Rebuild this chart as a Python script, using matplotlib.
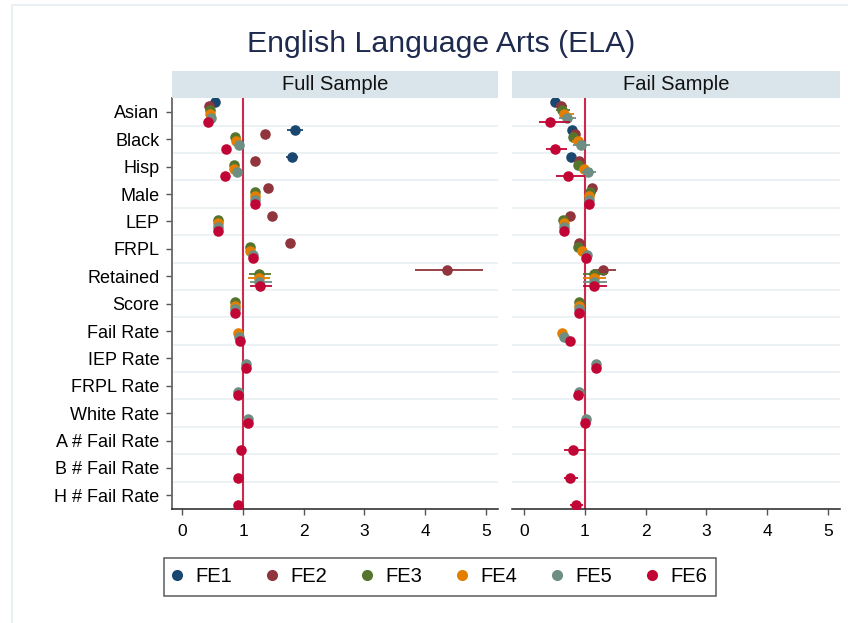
import numpy as np
import matplotlib
matplotlib.use("Agg")
import matplotlib.pyplot as plt
from matplotlib.lines import Line2D
from matplotlib.patches import Rectangle

plt.rcParams['font.family'] = ['Liberation Sans', 'DejaVu Sans']

nan = np.nan

categories = ["Asian", "Black", "Hisp", "Male", "LEP", "FRPL", "Retained", "Score",
              "Fail Rate", "IEP Rate", "FRPL Rate", "White Rate",
              "A # Fail Rate", "B # Fail Rate", "H # Fail Rate"]
models = ["FE1", "FE2", "FE3", "FE4", "FE5", "FE6"]
colors = ["#1a476f", "#90353b", "#55752f", "#e37e00", "#6e8e84", "#c10534"]
panels = ["Full Sample", "Fail Sample"]
xticks = [0, 1, 2, 3, 4, 5]

# ---- Full sample: point estimates and CI bounds ----
full_fe1 = [0.54, 1.85, 1.80]
full_fe1_lo = [0.51, 1.73, 1.71]
full_fe1_hi = [0.57, 1.98, 1.91]
full_fe2 = [0.44, 1.36, 1.20, 1.41, 1.47, 1.77, 4.36]
full_fe2_lo = [0.42, 1.32, 1.17, 1.38, 1.43, 1.74, 3.83]
full_fe2_hi = [0.46, 1.40, 1.23, 1.44, 1.51, 1.80, 4.96]
full_fe3 = [0.45, 0.87, 0.85, 1.20, 0.58, 1.12, 1.26, 0.86]
full_fe3_lo = [0.43, 0.85, 0.83, 1.18, 0.56, 1.10, 1.10, 0.84]
full_fe3_hi = [0.47, 0.89, 0.87, 1.22, 0.60, 1.14, 1.46, 0.88]
full_fe4 = [0.46, 0.88, 0.85, 1.20, 0.58, 1.12, 1.26, 0.86, 0.92]
full_fe4_lo = [0.44, 0.86, 0.83, 1.18, 0.56, 1.10, 1.09, 0.84, 0.90]
full_fe4_hi = [0.48, 0.90, 0.87, 1.22, 0.60, 1.14, 1.44, 0.88, 0.94]
full_fe5 = [0.48, 0.93, 0.90, 1.20, 0.58, 1.16, 1.27, 0.86, 0.93, 1.05, 0.91, 1.09]
full_fe5_lo = [0.46, 0.91, 0.88, 1.18, 0.56, 1.14, 1.12, 0.84, 0.91, 1.03, 0.89, 1.07]
full_fe5_hi = [0.50, 0.95, 0.92, 1.22, 0.60, 1.18, 1.48, 0.88, 0.95, 1.07, 0.93, 1.11]
full_fe6 = [0.42, 0.72, 0.70, 1.20, 0.59, 1.16, 1.28, 0.86, 0.945, 1.055, 0.91, 1.08, 0.97, 0.92, 0.92]
full_fe6_lo = [0.40, 0.70, 0.68, 1.18, 0.57, 1.14, 1.12, 0.84, 0.925, 1.035, 0.89, 1.06, 0.95, 0.90, 0.90]
full_fe6_hi = [0.44, 0.74, 0.72, 1.22, 0.61, 1.18, 1.48, 0.88, 0.965, 1.075, 0.93, 1.10, 0.99, 0.94, 0.94]

# ---- Fail sample ----
fail_fe1 = [0.51, 0.78, 0.77]
fail_fe1_lo = [0.48, 0.75, 0.74]
fail_fe1_hi = [0.55, 0.82, 0.81]
fail_fe2 = [0.60, 0.83, 0.90, 1.12, 0.75, 0.91, 1.30]
fail_fe2_lo = [0.53, 0.77, 0.85, 1.09, 0.72, 0.88, 1.14]
fail_fe2_hi = [0.70, 0.90, 0.96, 1.15, 0.79, 0.95, 1.52]
fail_fe3 = [0.63, 0.80, 0.88, 1.09, 0.64, 0.88, 1.15, 0.90]
fail_fe3_lo = [0.53, 0.75, 0.82, 1.06, 0.61, 0.85, 0.97, 0.88]
fail_fe3_hi = [0.75, 0.86, 0.94, 1.12, 0.67, 0.91, 1.36, 0.92]
fail_fe4 = [0.66, 0.88, 0.99, 1.07, 0.66, 0.96, 1.15, 0.90, 0.63]
fail_fe4_lo = [0.58, 0.78, 0.91, 1.04, 0.63, 0.92, 0.97, 0.88, 0.60]
fail_fe4_hi = [0.82, 0.98, 1.12, 1.10, 0.69, 1.00, 1.35, 0.92, 0.66]
fail_fe5 = [0.70, 0.93, 1.05, 1.07, 0.66, 1.03, 1.15, 0.90, 0.66, 1.19, 0.90, 1.02]
fail_fe5_lo = [0.58, 0.81, 0.95, 1.04, 0.63, 0.96, 0.97, 0.88, 0.63, 1.15, 0.88, 1.00]
fail_fe5_hi = [0.85, 1.08, 1.18, 1.10, 0.69, 1.10, 1.36, 0.92, 0.69, 1.25, 0.92, 1.04]
fail_fe6 = [0.42, 0.51, 0.72, 1.07, 0.66, 1.02, 1.15, 0.90, 0.76, 1.19, 0.89, 1.01, 0.80, 0.75, 0.86]
fail_fe6_lo = [0.25, 0.36, 0.53, 1.04, 0.63, 0.98, 0.97, 0.88, 0.72, 1.14, 0.87, 0.99, 0.65, 0.66, 0.76]
fail_fe6_hi = [0.75, 0.71, 1.00, 1.10, 0.69, 1.06, 1.36, 0.92, 0.80, 1.25, 0.91, 1.03, 1.02, 0.88, 0.97]

full_data = [(full_fe1, full_fe1_lo, full_fe1_hi), (full_fe2, full_fe2_lo, full_fe2_hi),
             (full_fe3, full_fe3_lo, full_fe3_hi), (full_fe4, full_fe4_lo, full_fe4_hi),
             (full_fe5, full_fe5_lo, full_fe5_hi), (full_fe6, full_fe6_lo, full_fe6_hi)]
fail_data = [(fail_fe1, fail_fe1_lo, fail_fe1_hi), (fail_fe2, fail_fe2_lo, fail_fe2_hi),
             (fail_fe3, fail_fe3_lo, fail_fe3_hi), (fail_fe4, fail_fe4_lo, fail_fe4_hi),
             (fail_fe5, fail_fe5_lo, fail_fe5_hi), (fail_fe6, fail_fe6_lo, fail_fe6_hi)]

W, H = 848, 623
fig = plt.figure(figsize=(W / 100, H / 100), dpi=100)

def fx(px):
    return px / W

def fy(py):
    return 1 - py / H

# outer light border
fig.add_artist(Rectangle((fx(12), fy(640)), 2.0, fy(4.7) - fy(640), transform=fig.transFigure,
                         fill=False, edgecolor="#e4edf1", linewidth=1.2))

fig.text(fx(441), fy(44), "English Language Arts (ELA)", ha="center", va="center",
         fontsize=21.8, color="#1e2b4f")

ax_specs = [(172, 498, -0.17), (512, 840, -0.20)]
top_px, bot_px = 97.7, 509
offsets = [-0.35, -0.21, -0.07, 0.07, 0.21, 0.35]
ypos = np.arange(1, len(categories) + 1)
line_red = "#cb2a4c"

for pi, (panel, data) in enumerate(zip(panels, [full_data, fail_data])):
    l, r, x0 = ax_specs[pi]
    ax = fig.add_axes([fx(l), fy(bot_px), fx(r) - fx(l), fy(top_px) - fy(bot_px)])
    ax.set_xlim(x0, 5.2)
    ax.set_ylim(15.5, 0.48)
    for g in np.arange(1.5, 15.0, 1.0):
        ax.axhline(g, color="#eaf0f3", lw=1.3, zorder=0)
    ax.axvline(1, color=line_red, lw=1.5, zorder=1)
    for mi, (vals, lo, hi) in enumerate(data):
        n = len(vals)
        y = ypos[:n] + offsets[mi]
        v = np.array(vals)
        ax.hlines(y, lo, hi, color=colors[mi], lw=1.3, zorder=2 + mi)
        ax.plot(v, y, "o", color=colors[mi], ms=7.6, mec="none", zorder=2 + mi)
    ax.set_xticks(xticks)
    ax.set_xticklabels([str(t) for t in xticks])
    ax.set_yticks(ypos)
    ax.tick_params(axis="x", length=4.5, width=1, color="#555555", pad=6, labelsize=12.5)
    ax.tick_params(axis="y", length=4, width=1, color="#555555", pad=5, labelsize=13)
    for s in ["top", "right"]:
        ax.spines[s].set_visible(False)
    ax.spines["bottom"].set_color("#222222")
    ax.spines["bottom"].set_linewidth(1.1)
    if pi == 0:
        ax.set_yticklabels(categories)
        ax.spines["left"].set_color("#666666")
        ax.spines["left"].set_linewidth(1.3)
    else:
        ax.set_yticklabels([])
        ax.tick_params(axis="y", length=0)
        ax.spines["left"].set_visible(False)
    # header strip
    sax = fig.add_axes([fx(l), fy(97.7), fx(r) - fx(l), fy(71) - fy(97.7)])
    sax.set_facecolor("#d9e5eb")
    sax.set_xticks([])
    sax.set_yticks([])
    for s in sax.spines.values():
        s.set_visible(False)
    sax.text(0.5, 0.5, panel, ha="center", va="center", fontsize=14.5, color="#111111",
             transform=sax.transAxes)

handles = [Line2D([], [], marker="o", ls="none", color=c, ms=8, mec="none") for c in colors]
leg = fig.legend(handles, models, loc="center", bbox_to_anchor=(fx(440), fy(577)), ncol=6,
                 fontsize=14.5, frameon=True, fancybox=False, edgecolor="#333333",
                 handlelength=0.4, handletextpad=0.73, columnspacing=1.76, borderpad=0.45)
leg.get_frame().set_linewidth(1.1)

fig.savefig("out.png", dpi=100)
